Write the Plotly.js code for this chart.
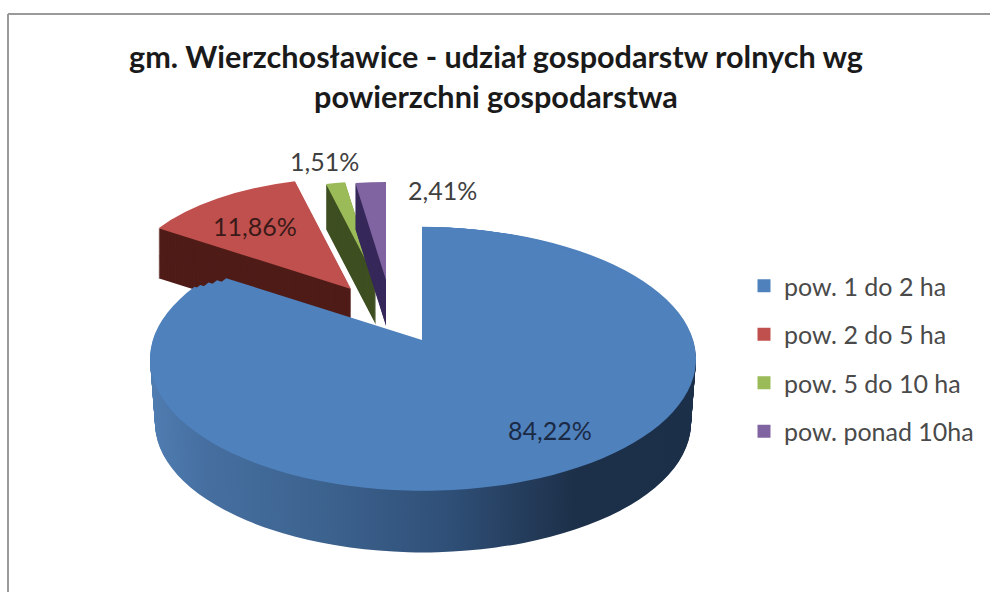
<!DOCTYPE html>
<html>
<head>
<meta charset="utf-8">
<script src="https://cdn.plot.ly/plotly-3.0.0.min.js"></script>
<style>html,body{margin:0;padding:0;background:#fff;overflow:hidden}</style>
</head>
<body>
<div id="chart" style="width:990px;height:592px"></div>
<script>
// ---- data ----
var categories = ['pow. 1 do 2 ha', 'pow. 2 do 5 ha', 'pow. 5 do 10 ha', 'pow. ponad 10ha'];
var shares = [84.22, 11.86, 1.51, 2.41];
var titleText = 'gm. Wierzchosławice - udział gospodarstw rolnych wg<br>powierzchni gospodarstwa';

// ---- styles ----
var topColors = ['#4f81bd', '#c0504d', '#9bbb59', '#8064a2'];
var wallColors = ['#2f4f78', '#4f1c18', '#3e4f21', '#37295a'];
var CLEAR = 'rgba(0,0,0,0)';

// ---- geometry of the tilted pie, screen pixels ----
var W = 990, H = 592, SX = 1.45, SY = 0.70, TY = 165;
var faceCx = [423, 351, 376, 386];
var faceCy = [359, 289, 280, 280];
var faceRx = [273, 230, 205, 203];
var wallDepth = [64, 50, 45, 46];
var wallShrink = [5, 0, 0, 0];
var drawOrder = [1, 2, 3, 0];
var farCy = [355, 350, 345, 340];
var farRx = [265, 255, 245, 234];
var labelX = [550, 255, 324, 442];
var labelY = [430, 226, 161, 190];
var labelColor = ['#1b2a44', '#3a1a18', '#404040', '#404040'];

function domainFor(cx, cy, rx) {
  var X = cx / SX, Y = (cy - TY) / SY, R = rx / SX;
  return {x: [(X - R) / W, (X + R) / W], y: [1 - (Y + R) / H, 1 - (Y - R) / H]};
}
function pieLayer(i, color, cx, cy, rx) {
  return {
    type: 'pie', values: shares, labels: categories, sort: false, direction: 'clockwise', rotation: 0,
    textinfo: 'none', hoverinfo: 'skip', showlegend: false,
    marker: {colors: shares.map(function (_, j) { return j === i ? color : CLEAR; }), line: {width: 0}},
    domain: domainFor(cx, cy, rx)
  };
}

var traces = [];
drawOrder.forEach(function (i) {
  for (var d = wallDepth[i]; d >= 1; d--) {
    var t = d / wallDepth[i];
    traces.push(pieLayer(i, wallColors[i], faceCx[i], faceCy[i] + d, faceRx[i] - wallShrink[i] * t));
  }
  traces.push(pieLayer(i, topColors[i], faceCx[i], faceCy[i], faceRx[i]));
});
// the far part of the blue face sits higher on the page because of the perspective
farCy.forEach(function (cy, k) {
  traces.push(pieLayer(0, topColors[0], 422, cy, farRx[k]));
});

// legend entries
categories.forEach(function (name, i) {
  traces.push({
    type: 'scatter', mode: 'markers', x: [null], y: [null], name: name, legendgroup: name,
    marker: {symbol: 'square', size: 13, color: topColors[i]}, showlegend: true, hoverinfo: 'skip'
  });
});

var annotations = shares.map(function (v, i) {
  return {
    xref: 'paper', yref: 'paper', x: labelX[i] / W, y: 1 - labelY[i] / H,
    xanchor: 'center', yanchor: 'middle', showarrow: false,
    text: v.toFixed(2).replace('.', ',') + '%',
    font: {family: 'Lato, sans-serif', size: 25, color: labelColor[i]}
  };
});

var layout = {
  width: W, height: H, margin: {l: 0, r: 0, t: 0, b: 0},
  paper_bgcolor: '#ffffff', plot_bgcolor: '#ffffff',
  title: {
    text: titleText, x: 496 / W, xanchor: 'center', y: 1 - 68 / H, yanchor: 'top',
    font: {family: 'Lato, sans-serif', size: 30.6, color: '#1a1a1a', weight: 700}
  },
  xaxis: {visible: false, range: [0, 1]},
  yaxis: {visible: false, range: [0, 1]},
  showlegend: true,
  legend: {
    x: 744 / W, xanchor: 'left', y: 1 - 263 / H, yanchor: 'top',
    tracegroupgap: 13, bgcolor: CLEAR,
    font: {family: 'Lato, sans-serif', size: 25, color: '#4a4a4a'}
  },
  annotations: annotations,
  shapes: [
    {type: 'line', xref: 'paper', yref: 'paper', x0: 8 / W, x1: 1, y0: 1 - 14 / H, y1: 1 - 14 / H, line: {color: '#9a9a9a', width: 2}},
    {type: 'line', xref: 'paper', yref: 'paper', x0: 8 / W, x1: 8 / W, y0: 0, y1: 1 - 14 / H, line: {color: '#9a9a9a', width: 2}}
  ]
};

Plotly.newPlot('chart', traces, layout, {displayModeBar: false, staticPlot: true}).then(function (gd) {
  var NS = 'http://www.w3.org/2000/svg';
  var defs = gd.querySelector('svg.main-svg defs');
  var grad = document.createElementNS(NS, 'linearGradient');
  grad.setAttribute('id', 'blueWall');
  [[0, '#4f7cb1'], [0.1, '#466fa0'], [0.3, '#3d6490'], [0.55, '#2f4f77'], [0.78, '#1d3049'], [1, '#1c2f49']].forEach(function (s) {
    var st = document.createElementNS(NS, 'stop');
    st.setAttribute('offset', s[0]);
    st.setAttribute('stop-color', s[1]);
    grad.appendChild(st);
  });
  defs.appendChild(grad);
  gd.querySelectorAll('.pielayer path.surface').forEach(function (p) {
    if (p.style.fill === 'rgb(47, 79, 120)') p.style.fill = 'url(#blueWall)';
  });
  gd.querySelector('.pielayer').setAttribute('transform', 'matrix(' + SX + ',0,0,' + SY + ',0,' + TY + ')');
});
</script>
</body>
</html>
